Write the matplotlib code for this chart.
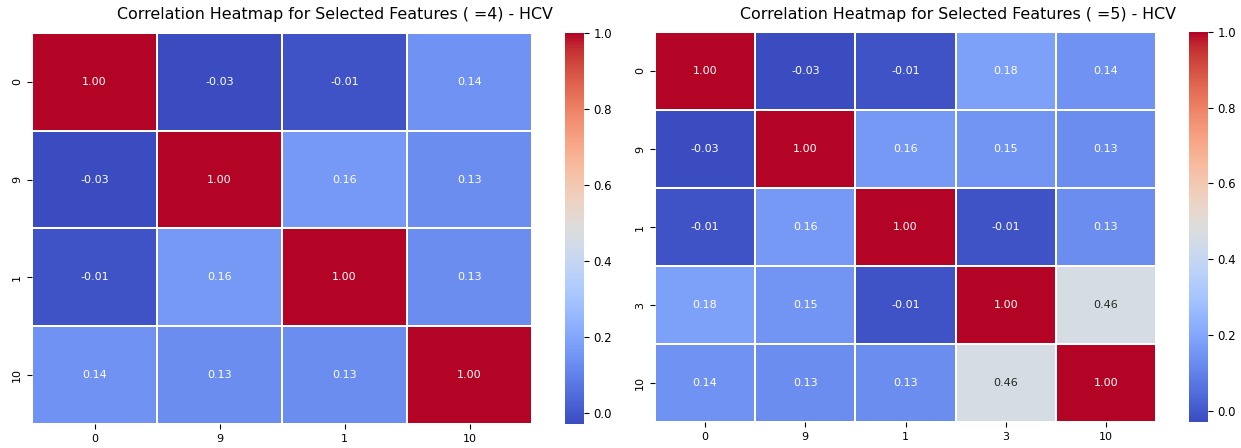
import numpy as np
import pandas as pd
import matplotlib
matplotlib.use("Agg")
import matplotlib.pyplot as plt
import seaborn as sns

# selected feature sets
labels_k4 = ["0", "9", "1", "10"]
corr_k4 = [
    [1.00, -0.03, -0.01, 0.14],
    [-0.03, 1.00, 0.16, 0.13],
    [-0.01, 0.16, 1.00, 0.13],
    [0.14, 0.13, 0.13, 1.00],
]

labels_k5 = ["0", "9", "1", "3", "10"]
corr_k5 = [
    [1.00, -0.03, -0.01, 0.18, 0.14],
    [-0.03, 1.00, 0.16, 0.15, 0.13],
    [-0.01, 0.16, 1.00, -0.01, 0.13],
    [0.18, 0.15, -0.01, 1.00, 0.46],
    [0.14, 0.13, 0.13, 0.46, 1.00],
]

W, H = 1241, 448
fig = plt.figure(figsize=(W / 100, H / 100), dpi=100)


def box(x0, y0, x1, y1):
    # pixel box -> figure fraction
    return [x0 / W, 1 - y1 / H, (x1 - x0) / W, (y1 - y0) / H]


panels = [
    (corr_k4, labels_k4, "Correlation Heatmap for Selected Features ( =4) - HCV",
     box(32, 33, 532, 424), box(565, 33, 584, 424), 335),
    (corr_k5, labels_k5, "Correlation Heatmap for Selected Features ( =5) - HCV",
     box(655, 32, 1156, 422), box(1189, 32, 1208, 422), 958),
]

for corr, labels, title, ax_box, cb_box, title_x in panels:
    ax = fig.add_axes(ax_box)
    cax = fig.add_axes(cb_box)
    df = pd.DataFrame(corr, index=labels, columns=labels)
    sns.heatmap(df, ax=ax, cbar_ax=cax, cmap="coolwarm", annot=True, fmt=".2f",
                linewidths=1.1, linecolor="white", annot_kws={"size": 8})
    fig.text(title_x / W, 1 - 15 / H, title, fontsize=11.4, ha="center", va="center")
    ax.tick_params(labelsize=8)
    cax.tick_params(labelsize=8.5)
    cax.set_yticks([0.0, 0.2, 0.4, 0.6, 0.8, 1.0])

plt.savefig("out.png", dpi=100)
